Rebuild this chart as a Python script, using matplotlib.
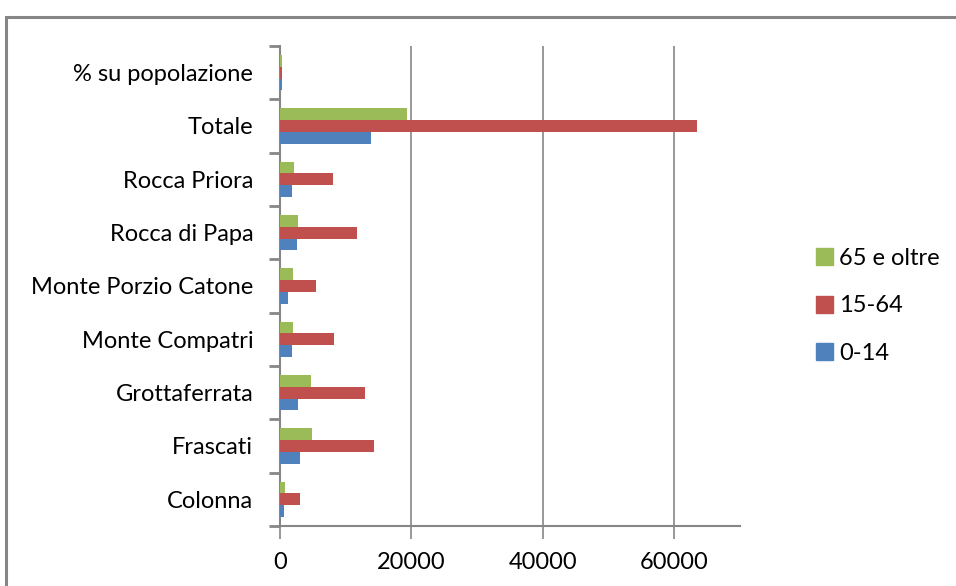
import numpy as np
import matplotlib
matplotlib.use("Agg")
import matplotlib.pyplot as plt
from matplotlib.patches import Patch, Rectangle

# dati
categorie = ["Colonna", "Frascati", "Grottaferrata", "Monte Compatri",
             "Monte Porzio Catone", "Rocca di Papa", "Rocca Priora",
             "Totale", "% su popolazione"]
eta_0_14 = [610, 3040, 2740, 1820, 1220, 2580, 1820, 13830, 300]
eta_15_64 = [3040, 14290, 12920, 8200, 5470, 11700, 8100, 63530, 300]
eta_65_oltre = [760, 4860, 4710, 1980, 1980, 2740, 2130, 19350, 300]
serie = ["0-14", "15-64", "65 e oltre"]
colori = ["#4F81BD", "#C0504D", "#9BBB59"]

plt.rcParams['font.family'] = ['Lato', 'DejaVu Sans']
grigio = "#868686"
fs = 17

fig = plt.figure(figsize=(9.56, 5.86), dpi=100)
ax = fig.add_axes([279.7 / 956, 60 / 586, (740 - 279.7) / 956, 480 / 586])

y = np.arange(len(categorie))
h = 1 / 4.5
for i, (vals, col) in enumerate(zip([eta_0_14, eta_15_64, eta_65_oltre], colori)):
    ax.barh(y + (i - 1) * h, vals, height=h, color=col, zorder=3)

ax.set_xlim(0, 70000)
ax.set_ylim(-0.5, len(categorie) - 0.5)
ax.set_xticks([0, 20000, 40000, 60000])
ax.set_yticks(y)
ax.set_yticklabels(categorie)
ax.set_yticks(np.arange(len(categorie) + 1) - 0.5, minor=True)
ax.tick_params(axis="y", which="major", length=0, pad=19, labelsize=fs)
ax.tick_params(axis="y", which="minor", length=8, width=2, color=grigio)
ax.tick_params(axis="x", length=9, width=1.2, color=grigio, pad=10, labelsize=fs)
ax.grid(axis="x", color=grigio, linewidth=1.2, zorder=0)

for s in ["top", "right"]:
    ax.spines[s].set_visible(False)
for s in ["left", "bottom"]:
    ax.spines[s].set_color(grigio)
    ax.spines[s].set_linewidth(1.5)

# legenda
handles = [Patch(color=c, label=l) for c, l in zip(colori, serie)][::-1]
fig.legend(handles=handles, loc="center left", bbox_to_anchor=(816 / 956, 1 - 306 / 586),
           frameon=False, fontsize=fs, handlelength=0.72, handleheight=0.72,
           handletextpad=0.25, labelspacing=1.12, borderpad=0, borderaxespad=0)

# cornice del grafico
fig.patches.append(Rectangle((6 / 956, -0.1), 1.2, 1.1 - 17 / 586, transform=fig.transFigure,
                             fill=False, edgecolor=grigio, linewidth=2.2))

fig.savefig("out.png", dpi=100)
